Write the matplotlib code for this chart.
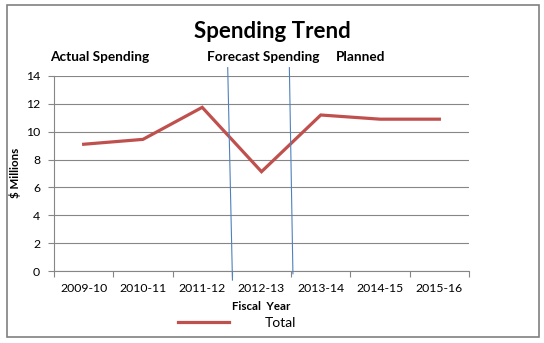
import numpy as np
import matplotlib; matplotlib.use("Agg")
import matplotlib.pyplot as plt
from matplotlib.patches import Rectangle

plt.rcParams.update({"font.family": ["Lato", "DejaVu Sans"], "font.size": 8.8})

years = ["2009-10", "2010-11", "2011-12", "2012-13", "2013-14", "2014-15", "2015-16"]
total = [9.1, 9.45, 11.75, 7.13, 11.2, 10.9, 10.9]
# period dividers, in category units: (x top, x bottom, y top, y bottom)
dividers = [(2.43, 2.51, 14.6, -0.65), (3.47, 3.53, 14.6, -0.2)]
periods = [("Actual Spending", 50), ("Forecast Spending", 207), ("Planned", 336)]

W, H = 544, 343
RED = "#C0504D"; BLUE = "#4F81BD"; GRID = "#868686"

fig = plt.figure(figsize=(W / 100, H / 100), dpi=100)
ax = fig.add_axes([54 / W, 1 - 271 / H, (469 - 54) / W, (271 - 76) / H])

x = np.arange(len(years))
ax.plot(x, total, color=RED, lw=2.3, solid_joinstyle="miter", zorder=3, label="Total")
for xt, xb, yt, yb in dividers:
    ax.plot([xt, xb], [yt, yb], color=BLUE, lw=0.8, clip_on=False, zorder=4)

ax.set_xlim(-0.5, len(years) - 0.5)
ax.set_ylim(0, 14)
ax.set_yticks(np.arange(0, 15, 2))
ax.set_xticks(x)
ax.set_xticklabels(years)
ax.set_xticks(np.arange(-0.5, len(years)), minor=True)
ax.tick_params(axis="x", which="major", length=0, pad=9)
ax.tick_params(axis="x", which="minor", length=4, color=GRID, width=0.8)
ax.tick_params(axis="y", length=4, color=GRID, width=0.8, pad=6)
ax.grid(axis="y", color=GRID, lw=0.8)
for s in ["top", "right"]:
    ax.spines[s].set_visible(False)
for s in ["left", "bottom"]:
    ax.spines[s].set_color(GRID)
    ax.spines[s].set_linewidth(0.8)
ax.set_axisbelow(True)

fig.text(272 / W, 1 - 31 / H, "Spending Trend", fontsize=16, fontweight="bold",
         ha="center", va="center")
for label, px in periods:
    fig.text(px / W, 1 - 57 / H, label, fontsize=9.8, fontweight="bold", ha="left", va="center")
fig.text(15 / W, 1 - 173 / H, "$ Millions", fontsize=8.3, fontweight="bold",
         rotation=90, ha="center", va="center")
fig.text(261 / W, 1 - 307 / H, "Fiscal  Year", fontsize=8.3, fontweight="bold",
         ha="center", va="center")

fig.legend(loc="center", bbox_to_anchor=(237 / W, 1 - 323 / H), frameon=False,
           fontsize=10, handlelength=3.7, handletextpad=2.6, borderpad=0)

fig.add_artist(Rectangle((6.5 / W, 1 - 337 / H), (539 - 6.5) / W, (337 - 4.5) / H,
                         transform=fig.transFigure, fill=False, ec="#808080", lw=1.2))

fig.savefig("out.png", dpi=100)
